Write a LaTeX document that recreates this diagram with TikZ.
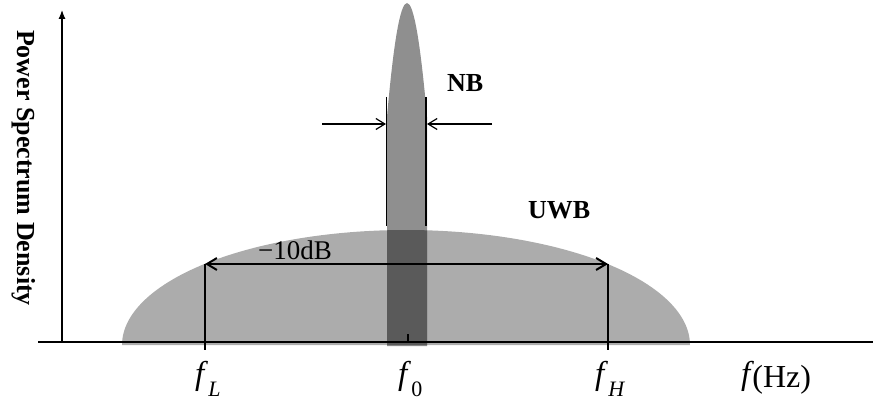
\documentclass[tikz,border=0pt]{standalone}
\usepackage{fontspec}
\setmainfont{Liberation Serif}
\usetikzlibrary{arrows.meta}
\definecolor{uwbgray}{RGB}{172,172,172}
\definecolor{nbgray}{RGB}{143,143,143}
\definecolor{ovgray}{RGB}{90,90,90}
\newcommand{\fsub}[2]{{\fontsize{33}{33}\selectfont\itshape f}\hspace{4pt}\raisebox{-12pt}{\fontsize{22}{22}\selectfont #1{#2}}}
\begin{document}
\begin{tikzpicture}[x=1pt,y=-1pt,
  axisline/.style={line width=1.2pt,black},
  thinline/.style={line width=1.2pt,black},
  bandarrow/.style={line width=1.2pt,black,-{Straight Barb[length=9pt,width=11pt]}},
  dbarrow/.style={line width=2pt,black,{Straight Barb[length=10pt,width=12pt]}-{Straight Barb[length=10pt,width=12pt]}},
  edgeline/.style={line width=2.5pt,black},
  lbl/.style={inner sep=0pt,font=\fontsize{26}{26}\selectfont},
  blbl/.style={inner sep=0pt,font=\fontsize{26}{26}\selectfont\bfseries}]
\useasboundingbox (0,0) rectangle (873,406);
% UWB spectrum
\fill[uwbgray] plot[domain=180:360,samples=120] ({406+284*cos(\x)},{345+115*sin(\x)}) -- cycle;
% NB spectrum
\fill[nbgray] (387,346) -- (387,117) .. controls (400.33,-35) and (413.67,-35) .. (427,117) -- (427,346) -- cycle;
% overlap
\begin{scope}
  \clip plot[domain=180:360,samples=120] ({406+284*cos(\x)},{345+115*sin(\x)}) -- cycle;
  \fill[ovgray] (387,346) -- (387,117) .. controls (400.33,-35) and (413.67,-35) .. (427,117) -- (427,346) -- cycle;
\end{scope}
% axes
\coordinate (o) at (62,342);
\coordinate (ytop) at (62,10);
\coordinate (xl) at (38,342);
\coordinate (xr) at (873,342);
\draw[axisline] (xl) -- (xr);
\draw[axisline,-{Latex[length=9pt,width=7pt]}] (o) -- (ytop);
% NB bandwidth markers
\coordinate (nbl1) at (386.5,97);
\coordinate (nbl2) at (386.5,226);
\coordinate (nbr1) at (426,97);
\coordinate (nbr2) at (426,226);
\draw[thinline] (nbl1) -- (nbl2);
\draw[thinline] (nbr1) -- (nbr2);
\coordinate (al0) at (322,124);
\coordinate (al1) at (386,124);
\coordinate (ar0) at (492,124);
\coordinate (ar1) at (427,124);
\draw[bandarrow] (al0) -- (al1);
\draw[bandarrow] (ar0) -- (ar1);
% -10dB bandwidth
\coordinate (dl) at (205,264);
\coordinate (dr) at (608,264);
\coordinate (dlb) at (205,350);
\coordinate (drb) at (608,350);
\draw[edgeline] (dl) -- (dlb);
\draw[edgeline] (dr) -- (drb);
\draw[dbarrow] (dl) -- (dr);
% centre tick
\coordinate (t0) at (408,334);
\coordinate (t1) at (408,342);
\draw[line width=2.5pt] (t0) -- (t1);
% labels
\node[blbl,anchor=base west] (nb) at (447,92) {NB};
\node[blbl,anchor=base west] (uwb) at (528,219) {UWB};
\node[lbl,anchor=base west] (db) at (258,259) {\fontsize{27}{27}\selectfont −10dB};
\node[blbl,rotate=-90] (psd) at (24,168) {Power Spectrum Density};
\node[inner sep=0pt,anchor=base west] (fl) at (195,384) {\fsub{\itshape}{L}};
\node[inner sep=0pt,anchor=base west] (f0) at (398,384) {\fsub{\upshape}{0}};
\node[inner sep=0pt,anchor=base west] (fh) at (595,384) {\fsub{\itshape}{H}};
\node[inner sep=0pt,anchor=base west] (fhz) at (741,384) {{\fontsize{33}{33}\selectfont\itshape f}\hspace{2pt}\raisebox{-3pt}{\fontsize{32}{32}\selectfont (Hz)}};
\end{tikzpicture}
\end{document}
